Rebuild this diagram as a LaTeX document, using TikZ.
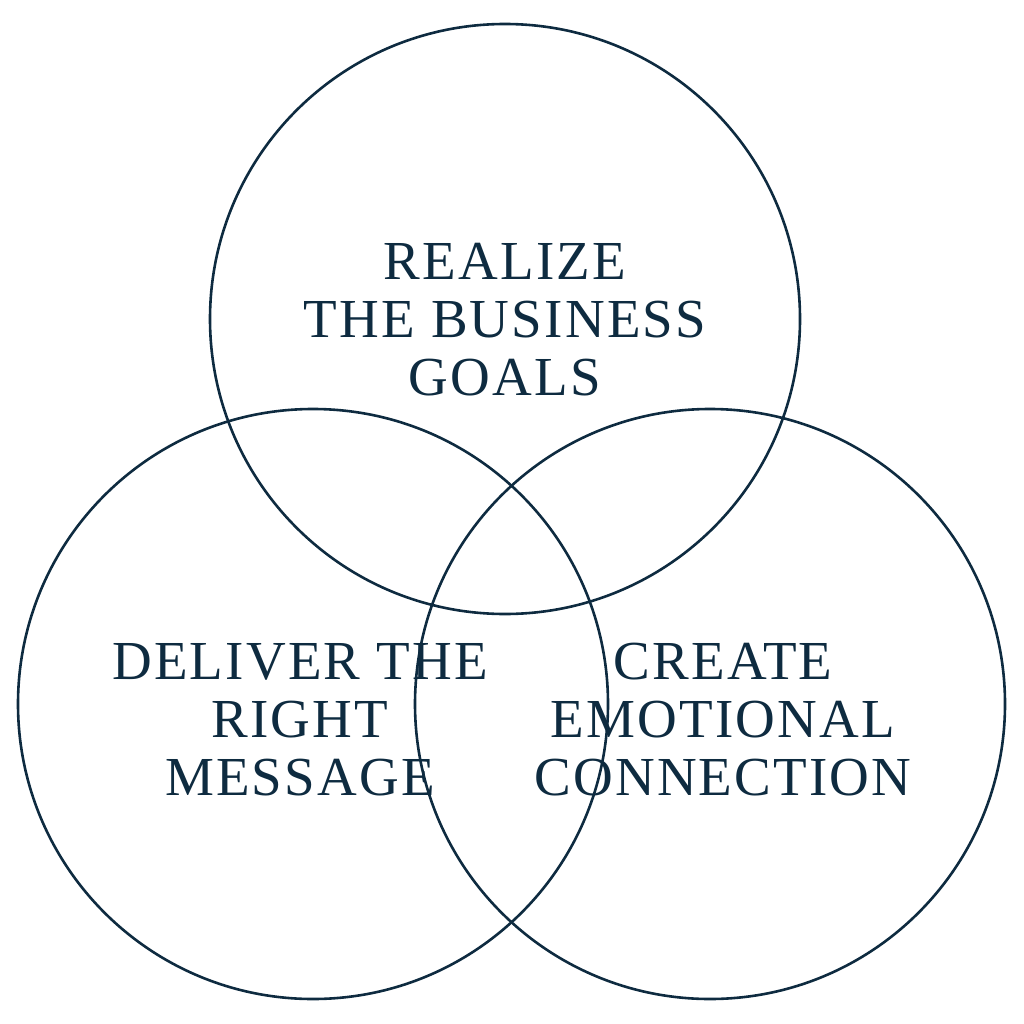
\documentclass[tikz,border=0pt]{standalone}
\usepackage{fontspec}
\setmainfont{Liberation Serif}[LetterSpace=4]
\definecolor{navy}{HTML}{0E2B40}
\begin{document}
\begin{tikzpicture}[x=1pt,y=-1pt,
  ring/.style={draw=navy,line width=2.6pt},
  lbl/.style={text=navy,align=center,font=\fontsize{55}{58}\selectfont,inner sep=0pt}]
\useasboundingbox (0,0) rectangle (1024,1024);
\draw[ring] (505,319) circle (295);
\draw[ring] (313,704) circle (295);
\draw[ring] (710,704) circle (295);
\node[lbl] (top) at (505,320) {REALIZE\\THE BUSINESS\\GOALS};
\node[lbl] (left) at (300,720) {DELIVER THE\\RIGHT\\MESSAGE};
\node[lbl] (right) at (723,720) {CREATE\\EMOTIONAL\\CONNECTION};
\end{tikzpicture}
\end{document}
